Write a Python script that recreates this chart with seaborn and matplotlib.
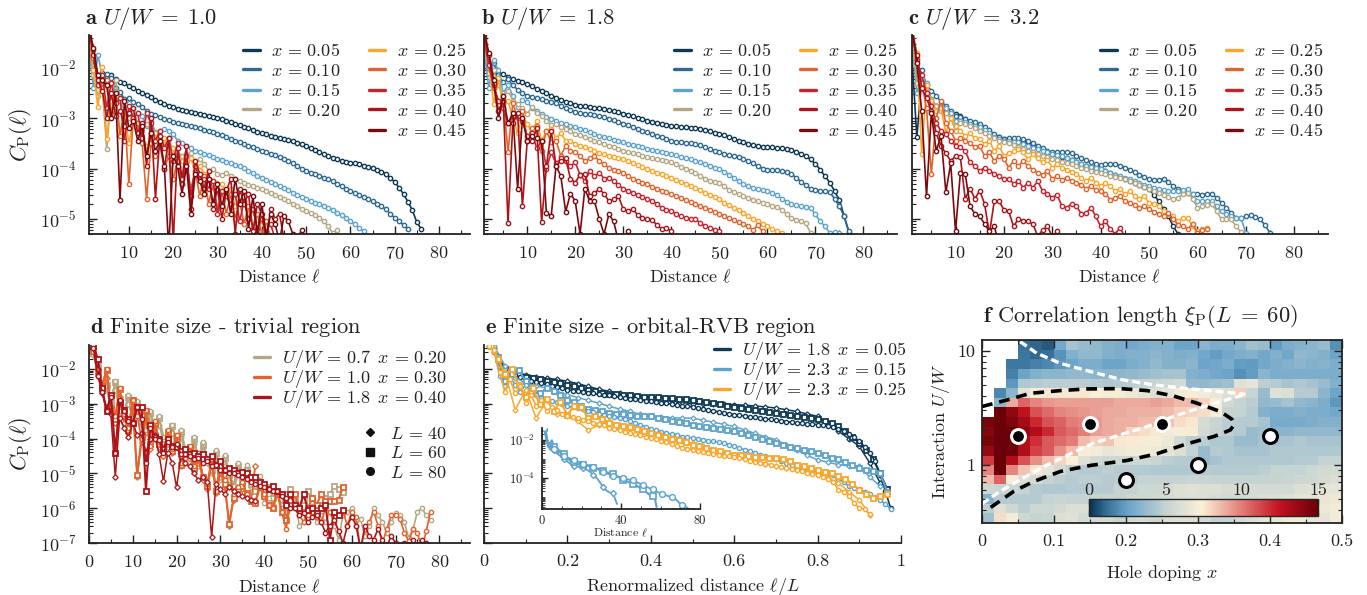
import numpy as np
import pandas as pd
import matplotlib
matplotlib.use('Agg')
import matplotlib.pyplot as plt
import seaborn as sns
from matplotlib.colors import LinearSegmentedColormap, Normalize
from matplotlib.cm import ScalarMappable
from matplotlib.lines import Line2D
from matplotlib.ticker import MultipleLocator, LogLocator, NullFormatter

# all curves are log10(C_P) x 100, starting at distance 1
a05 = [-130,-185,-235,-210,-225,-215,-223,-228,-231,-236,-240,-245,-250,-253,-258,-263,-268,-272,-275,-278,-281,-283,-285,-287,-289,-291,-293,-295,-297,-299,-302,-305,-308,-311,-314,-317,-320,-323,-327,-330,-332,-335,-337,-339,-341,-343,-346,-349,-352,-356,-360,-364,-368,-372,-376,-379,-382,-385,-387,-389,-390,-392,-394,-396,-399,-402,-406,-411,-418,-427,-438,-451,-466,-483,-507,-520]
a10 = [-130,-180,-215,-225,-213,-221,-240,-248,-262,-260,-268,-272,-278,-285,-291,-294,-298,-301,-304,-308,-310,-312,-314,-316,-318,-320,-323,-325,-328,-331,-334,-338,-341,-345,-348,-351,-355,-358,-362,-365,-368,-371,-374,-378,-381,-385,-390,-395,-400,-405,-408,-411,-415,-418,-421,-425,-430,-435,-440,-445,-449,-453,-457,-461,-465,-470,-475,-481,-490,-498,-505,-512,-521]
a15 = [-160,-240,-175,-215,-235,-230,-245,-265,-285,-270,-295,-290,-295,-315,-305,-328,-325,-321,-326,-331,-345,-350,-355,-360,-365,-368,-371,-374,-378,-381,-384,-387,-390,-393,-395,-399,-404,-409,-414,-418,-422,-426,-430,-434,-438,-443,-448,-452,-457,-461,-464,-468,-471,-475,-478,-483,-488,-493,-499,-505,-511,-518,-525]
a20 = [-155,-215,-255,-240,-361,-255,-225,-265,-275,-300,-288,-310,-325,-311,-330,-345,-341,-355,-341,-365,-374,-375,-372,-369,-391,-381,-391,-405,-400,-411,-413,-408,-415,-420,-425,-429,-432,-435,-438,-441,-445,-449,-452,-456,-461,-465,-470,-475,-480,-485,-489,-493,-498,-505,-515,-528,-523]
a25 = [-140,-205,-278,-198,-341,-265,-255,-330,-290,-350,-305,-320,-335,-355,-345,-330,-350,-340,-375,-360,-395,-385,-400,-380,-405,-395,-410,-420,-425,-428,-430,-448,-440,-475,-465,-470,-490,-485,-510,-505,-532]
a30 = [-135,-180,-215,-240,-225,-290,-250,-335,-285,-431,-300,-310,-350,-460,-350,-375,-355,-400,-375,-420,-385,-430,-395,-440,-405,-455,-415,-470,-430,-480,-445,-490,-450,-500,-465,-510,-475,-520,-490,-530,-505,-540]
a35 = [-125,-165,-235,-215,-280,-230,-270,-260,-345,-275,-300,-290,-340,-290,-310,-345,-325,-360,-340,-385,-350,-430,-375,-455,-395,-420,-420,-440,-425,-490,-445,-455,-470,-450,-505,-465,-500,-480,-520,-500,-525,-510,-540]
a40 = [-122,-175,-225,-245,-300,-250,-295,-285,-315,-290,-280,-330,-310,-395,-300,-460,-335,-400,-340,-545,-360,-420,-355,-480,-385,-410,-440,-405,-480,-440,-500,-445,-420,-530,-440,-470,-450,-525,-470,-490,-540,-480,-500,-490,-540]
a45 = [-120,-160,-215,-225,-235,-300,-250,-463,-265,-320,-305,-345,-315,-375,-330,-365,-345,-395,-560,-375,-395,-450,-395,-490,-410,-425,-450,-420,-470,-430,-475,-440,-490,-420,-470,-445,-520,-455,-530,-470,-535,-490,-510,-545,-495,-505,-530,-540,-522,-545]

b05 = [-140,-195,-215,-210,-213,-218,-223,-226,-229,-233,-237,-241,-245,-250,-255,-259,-263,-267,-270,-273,-275,-276,-277,-279,-280,-282,-284,-286,-288,-291,-293,-296,-299,-302,-305,-307,-309,-311,-313,-315,-316,-317,-318,-319,-319,-321,-324,-326,-329,-331,-334,-337,-341,-345,-348,-351,-353,-355,-357,-358,-358,-359,-360,-361,-363,-367,-371,-375,-382,-391,-402,-415,-428,-445,-462,-495,-528]
b10 = [-150,-200,-190,-215,-228,-222,-235,-243,-250,-255,-258,-260,-262,-265,-267,-270,-275,-280,-284,-288,-290,-291,-292,-294,-295,-298,-301,-304,-307,-311,-314,-318,-321,-325,-328,-331,-335,-338,-342,-345,-347,-348,-349,-350,-351,-354,-358,-362,-365,-368,-371,-374,-376,-378,-381,-385,-390,-395,-400,-403,-403,-403,-405,-407,-411,-418,-426,-433,-440,-443,-444,-445,-447,-460,-475,-495,-525]
b15 = [-165,-240,-185,-205,-250,-235,-255,-278,-263,-268,-280,-285,-292,-297,-301,-305,-309,-312,-315,-318,-321,-324,-328,-332,-335,-338,-340,-343,-345,-348,-351,-353,-356,-358,-361,-363,-365,-367,-369,-371,-374,-377,-380,-382,-385,-388,-391,-394,-398,-401,-406,-412,-418,-425,-431,-435,-438,-440,-443,-445,-449,-453,-460,-466,-471,-473,-475,-476,-478,-491,-505,-515,-528,-527,-528]
b20 = [-155,-210,-205,-235,-255,-245,-265,-272,-280,-291,-278,-290,-296,-305,-313,-312,-318,-322,-326,-331,-334,-337,-341,-345,-348,-352,-355,-358,-362,-365,-368,-370,-372,-375,-378,-380,-382,-384,-386,-388,-392,-396,-400,-404,-408,-414,-420,-424,-426,-428,-435,-442,-447,-451,-455,-459,-462,-465,-468,-471,-474,-476,-482,-490,-498,-502,-505,-509,-528]
b25 = [-150,-190,-271,-221,-280,-265,-300,-330,-295,-311,-330,-305,-345,-325,-321,-340,-330,-345,-345,-351,-355,-358,-362,-366,-369,-372,-375,-377,-379,-381,-385,-389,-393,-397,-401,-405,-408,-411,-415,-418,-422,-426,-430,-434,-438,-443,-448,-452,-456,-461,-468,-473,-478,-483,-488,-494,-500,-505,-510,-515,-520,-524,-528]
b30 = [-145,-190,-240,-265,-260,-367,-270,-300,-285,-341,-320,-315,-365,-325,-348,-345,-375,-355,-365,-368,-375,-385,-380,-375,-385,-392,-398,-403,-405,-408,-415,-420,-424,-428,-431,-436,-440,-444,-447,-451,-455,-459,-463,-467,-471,-474,-478,-482,-487,-491,-495,-499,-503,-507,-511,-515,-522,-513,-525]
b35 = [-140,-195,-235,-265,-280,-310,-295,-295,-305,-335,-330,-360,-345,-400,-368,-390,-380,-385,-395,-388,-412,-425,-405,-415,-408,-420,-418,-425,-432,-441,-445,-448,-452,-456,-461,-465,-470,-478,-482,-485,-490,-495,-498,-500,-501,-508,-514,-518,-522,-525]
b40 = [-135,-175,-230,-285,-265,-508,-310,-290,-475,-345,-345,-320,-507,-395,-325,-395,-385,-380,-420,-428,-412,-410,-455,-448,-441,-450,-465,-461,-455,-481,-485,-481,-492,-498,-501,-502,-512,-520,-518,-525]
b45 = [-125,-170,-225,-300,-255,-310,-290,-440,-300,-345,-335,-340,-345,-488,-494,-395,-415,-486,-450,-465,-530,-440,-465,-465,-500,-530,-491,-505,-545,-545,-525]

c05 = [-180,-338,-225,-250,-270,-275,-281,-284,-287,-291,-296,-301,-307,-313,-318,-323,-328,-333,-337,-341,-343,-344,-345,-347,-348,-352,-357,-362,-367,-371,-374,-377,-380,-384,-388,-391,-394,-397,-399,-401,-404,-409,-413,-417,-421,-425,-429,-433,-437,-441,-452,-465,-480,-495,-515,-530]
c10 = [-160,-220,-205,-235,-245,-255,-268,-275,-285,-295,-298,-301,-305,-308,-311,-317,-324,-332,-338,-341,-340,-340,-340,-342,-345,-350,-355,-360,-365,-368,-368,-367,-368,-370,-375,-380,-384,-388,-391,-393,-392,-391,-391,-394,-398,-402,-407,-412,-417,-421,-423,-422,-420,-427,-435,-441,-446,-449,-451,-451,-452,-451,-451,-458,-468,-478,-488,-498,-498,-495,-493,-497,-501,-513,-528]
c15 = [-140,-250,-221,-230,-262,-275,-275,-280,-290,-305,-305,-308,-312,-315,-318,-323,-330,-337,-342,-345,-346,-347,-348,-352,-355,-359,-362,-365,-368,-371,-374,-376,-380,-384,-388,-391,-394,-396,-399,-401,-404,-408,-412,-415,-418,-421,-425,-429,-432,-435,-438,-441,-443,-444,-445,-445,-443,-441,-450,-465,-465,-465,-465,-475,-485,-490,-494,-498,-498,-528]
c20 = [-145,-230,-240,-245,-265,-275,-285,-290,-300,-325,-310,-312,-316,-320,-325,-330,-335,-340,-345,-348,-350,-353,-357,-361,-365,-368,-372,-375,-378,-381,-384,-387,-390,-392,-395,-398,-401,-404,-406,-408,-411,-414,-416,-419,-421,-425,-429,-433,-437,-441,-445,-449,-453,-457,-461,-458,-451,-448,-460,-478,-475,-472,-471,-485,-501,-501,-501,-515,-526]
c25 = [-125,-170,-371,-235,-265,-285,-280,-330,-300,-315,-325,-335,-330,-340,-341,-352,-345,-365,-355,-375,-370,-365,-362,-368,-381,-372,-380,-388,-383,-398,-392,-398,-402,-406,-411,-418,-425,-418,-428,-435,-428,-435,-445,-440,-451,-445,-455,-460,-455,-468,-470,-475,-485,-490,-495,-505,-498,-498,-515,-525,-520,-518]
c30 = [-130,-180,-230,-280,-411,-300,-265,-310,-325,-345,-340,-345,-350,-358,-355,-375,-368,-385,-375,-381,-398,-385,-395,-385,-395,-402,-408,-412,-405,-421,-415,-422,-418,-425,-428,-432,-440,-435,-442,-445,-450,-462,-458,-455,-465,-468,-472,-478,-475,-481,-486,-490,-495,-488,-501,-512,-515,-520,-510,-528,-522,-521]
c35 = [-125,-185,-215,-250,-275,-310,-325,-331,-345,-355,-358,-365,-388,-395,-405,-398,-405,-410,-415,-421,-420,-430,-425,-438,-428,-438,-425,-445,-450,-458,-452,-475,-478,-470,-475,-490,-488,-478,-495,-515,-505,-520,-530,-518,-535]
c40 = [-122,-175,-240,-260,-285,-330,-355,-370,-385,-375,-378,-460,-440,-460,-444,-470,-530,-465,-465,-482,-485,-515,-500,-505,-505,-510,-535,-522,-515,-535,-525]
c45 = [-120,-190,-285,-455,-290,-365,-335,-447,-390,-525,-408,-410,-475,-490,-495,-510,-525,-515,-550,-560]

d20_40 = [-150,-200,-265,-260,-310,-260,-320,-335,-300,-345,-315,-360,-385,-340,-400,-360,-410,-425,-385,-425,-395,-445,-460,-415,-480,-435,-470,-500,-460,-520,-480,-520,-560,-500,-530,-505,-540,-478]
d20_60 = [-155,-190,-255,-245,-295,-238,-300,-325,-280,-335,-298,-350,-380,-325,-390,-340,-400,-415,-365,-410,-380,-435,-455,-400,-470,-418,-460,-490,-440,-510,-455,-505,-540,-480,-520,-490,-530,-550,-525,-560,-540,-570,-560,-590,-560,-545,-580,-600,-575,-550,-570,-600,-590,-570,-560,-535,-545,-552]
d20_80 = [-160,-195,-260,-250,-300,-234,-300,-320,-276,-330,-293,-345,-375,-322,-385,-336,-395,-410,-362,-405,-374,-430,-450,-395,-465,-411,-455,-480,-432,-500,-447,-495,-535,-470,-510,-475,-515,-535,-508,-585,-570,-590,-560,-600,-610,-555,-560,-650,-640,-600,-595,-640,-620,-640,-610,-650,-690,-620,-610,-600,-650,-630,-680,-650,-600,-620,-640,-670,-640,-615,-620,-640,-685,-660,-610,-600,-620,-635]
d30_40 = [-145,-220,-255,-225,-325,-355,-280,-355,-385,-315,-510,-410,-345,-430,-365,-425,-450,-395,-440,-405,-480,-455,-440,-500,-460,-520,-545,-475,-555,-500,-535,-650,-575,-545,-545,-560,-580,-478]
d30_60 = [-148,-210,-248,-202,-315,-345,-258,-335,-375,-290,-505,-395,-322,-415,-355,-415,-440,-380,-435,-392,-475,-445,-425,-485,-445,-510,-535,-465,-550,-490,-530,-645,-570,-545,-535,-555,-580,-585,-540,-565,-590,-600,-555,-610,-635,-575,-560,-600,-610,-600,-570,-590,-560,-580,-580,-580,-575,-540]
d30_80 = [-150,-215,-250,-200,-310,-335,-255,-330,-370,-288,-335,-400,-319,-420,-350,-410,-450,-376,-430,-389,-470,-440,-422,-480,-440,-510,-530,-460,-540,-480,-520,-490,-560,-540,-525,-560,-575,-580,-530,-560,-590,-600,-550,-610,-660,-590,-600,-620,-640,-620,-610,-625,-640,-600,-610,-640,-620,-610,-650,-610,-625,-720,-660,-640,-610,-650,-700,-660,-620,-620,-630,-670,-695,-660,-670,-720,-665,-610]
d40_40 = [-130,-200,-270,-310,-330,-510,-340,-370,-395,-355,-390,-385,-440,-400,-390,-445,-523,-440,-470,-540,-450,-470,-480,-500,-520,-510,-525,-683,-530,-545,-560,-540,-550,-560,-565,-570,-575,-578]
d40_60 = [-135,-170,-255,-320,-275,-440,-295,-318,-345,-355,-308,-310,-550,-360,-395,-400,-430,-400,-420,-425,-435,-430,-445,-440,-450,-445,-460,-450,-475,-465,-490,-485,-490,-500,-495,-500,-510,-510,-525,-530,-545,-535,-550,-560,-590,-560,-590,-600,-560,-605,-600,-615,-600,-590,-690,-610,-620,-605]
d40_80 = [-140,-220,-265,-322,-280,-440,-290,-320,-350,-355,-310,-345,-470,-370,-400,-405,-440,-410,-425,-415,-445,-445,-450,-460,-455,-470,-465,-480,-475,-490,-490,-500,-500,-505,-510,-515,-525,-530,-535,-540,-545,-550,-550,-565,-570,-600,-600,-620,-615,-640,-625,-620,-640,-670,-650,-635,-665,-700,-650,-625,-650,-720,-650,-680,-690,-660,-690,-710,-680,-700,-720,-700,-740,-690,-720,-690,-700,-710]

e05_40 = [-140,-200,-210,-216,-222,-226,-230,-235,-242,-250,-258,-264,-270,-275,-280,-283,-287,-291,-296,-300,-300,-301,-301,-302,-304,-306,-309,-312,-317,-322,-329,-336,-355,-379,-400,-422,-470,-527]
e05_60 = [-135,-170,-200,-210,-215,-223,-226,-230,-234,-238,-241,-245,-250,-255,-260,-264,-268,-271,-272,-274,-276,-278,-279,-280,-281,-282,-283,-285,-286,-288,-291,-294,-297,-301,-305,-309,-312,-315,-318,-321,-324,-326,-329,-332,-335,-338,-341,-344,-349,-356,-365,-378,-395,-413,-432,-460,-500,-545]
e05_80 = [-135,-150,-195,-200,-210,-218,-224,-231,-235,-238,-241,-244,-248,-251,-255,-259,-262,-264,-266,-268,-270,-272,-274,-276,-278,-280,-283,-285,-287,-289,-291,-293,-295,-297,-299,-301,-303,-305,-307,-309,-312,-315,-318,-321,-323,-326,-329,-331,-333,-335,-337,-339,-341,-343,-345,-347,-349,-351,-353,-355,-356,-357,-358,-360,-362,-364,-367,-372,-379,-387,-396,-408,-423,-441,-465,-504,-550,-600]
e15_40 = [-135,-190,-225,-240,-248,-255,-265,-274,-282,-290,-298,-307,-315,-322,-330,-336,-338,-340,-341,-341,-347,-353,-359,-365,-375,-385,-395,-403,-418,-433,-448,-461,-468,-475,-478,-480,-510,-537]
e15_60 = [-135,-165,-235,-215,-202,-235,-260,-270,-255,-262,-275,-288,-295,-305,-315,-318,-322,-326,-328,-330,-333,-334,-335,-336,-340,-345,-350,-353,-356,-360,-364,-367,-370,-373,-376,-379,-385,-390,-396,-402,-408,-413,-418,-423,-428,-433,-437,-441,-448,-455,-460,-468,-476,-485,-490,-494,-499,-552]
e15_80 = [-135,-150,-220,-250,-225,-245,-265,-245,-265,-275,-282,-288,-292,-296,-300,-307,-310,-313,-316,-320,-324,-328,-332,-336,-339,-342,-345,-348,-355,-361,-366,-372,-376,-380,-384,-388,-391,-394,-396,-398,-400,-403,-406,-408,-410,-413,-417,-422,-427,-432,-437,-441,-447,-451,-456,-460,-465,-470,-476,-482,-486,-489,-492,-495,-497,-499,-505,-515,-525,-537,-542,-545,-552,-560,-567,-575,-588,-601]
e25_40 = [-150,-210,-317,-260,-341,-290,-330,-336,-350,-376,-360,-350,-360,-372,-378,-384,-392,-400,-407,-413,-422,-432,-442,-451,-458,-465,-472,-480,-485,-490,-495,-499,-512,-528,-552,-576,-619]
e25_60 = [-135,-170,-215,-200,-245,-279,-255,-300,-285,-320,-295,-331,-305,-310,-340,-335,-345,-355,-360,-364,-368,-372,-378,-384,-390,-395,-400,-405,-411,-417,-422,-427,-432,-437,-442,-446,-448,-450,-452,-454,-455,-456,-460,-465,-475,-480,-485,-489,-495,-500,-508,-515,-530,-547,-560,-571,-566,-560]
e25_80 = [-135,-145,-210,-265,-230,-270,-250,-298,-275,-305,-290,-320,-310,-318,-328,-336,-338,-342,-346,-350,-354,-358,-362,-370,-372,-376,-380,-384,-388,-391,-395,-398,-402,-406,-411,-416,-421,-426,-429,-432,-435,-438,-441,-443,-446,-449,-451,-454,-457,-460,-463,-466,-470,-473,-475,-478,-481,-484,-487,-490,-494,-498,-501,-504,-510,-516,-525,-547,-552,-565,-585,-600,-602,-618]

# correlation length grid, top row first
xi_grid = [
    [np.nan,np.nan,np.nan,1.2,1.0,0.8,2.8,4.2,3.8,3.6,3.2,3.0,2.8,3.0,3.2,3.2,2.6,2.6,3.4,3.0,3.0,3.4,4.0,3.8,2.4,3.0,3.2,3.4,3.8,2.0],
    [np.nan,np.nan,np.nan,1.3,1.1,1.2,2.1,3.2,3.6,3.6,3.2,3.0,3.2,3.2,3.4,3.2,3.0,3.2,2.8,2.4,2.8,3.0,3.2,2.8,3.2,2.7,3.6,3.4,3.2,2.6],
    [np.nan,np.nan,1.4,1.4,1.6,1.8,2.2,2.6,3.0,3.0,2.6,2.6,3.0,3.2,3.6,3.2,3.2,3.4,2.6,2.7,3.0,2.4,2.3,2.8,3.0,3.2,3.4,3.2,3.3,3.0],
    [np.nan,np.nan,1.6,2.6,3.2,3.4,3.4,3.6,3.6,3.4,3.4,3.5,3.6,3.8,4.0,4.2,4.2,3.2,3.0,2.8,2.6,2.0,2.4,3.4,3.0,3.0,3.0,3.0,3.0,3.0],
    [np.nan,np.nan,2.2,4.4,4.6,4.8,4.8,4.8,4.8,4.6,4.4,4.6,4.8,5.0,5.2,5.4,5.6,3.6,3.6,3.8,4.0,6.2,6.4,4.8,4.6,4.2,4.4,4.2,3.8,3.2],
    [np.nan,1.8,3.4,6.4,7.2,7.6,7.6,7.6,7.6,7.4,7.2,7.2,6.8,6.4,6.0,6.4,7.0,7.2,7.0,6.6,6.0,8.2,5.2,3.8,6.2,6.0,4.6,4.6,3.4,2.6],
    [np.nan,3.4,9.0,10.5,9.8,9.4,9.2,9.2,9.2,9.2,9.2,9.0,9.0,9.0,9.2,9.0,8.6,8.6,8.0,7.2,5.6,5.0,4.8,3.6,3.8,4.2,3.6,3.4,3.0,2.2],
    [np.nan,15,14,12.6,11,10.4,9.8,9.6,9.4,9.2,9.0,9.0,8.8,8.8,8.8,8.6,8.2,8.0,7.8,7.2,5,5,4.6,3.2,3.0,3.0,3.2,3.0,3.0,2.8],
    [14.6,15,14.4,13.4,12,11,10.6,10,9.8,9.4,9.0,8.8,8.8,8.6,8.6,8.4,7.8,7.6,5.8,5.2,4.8,4.6,4.6,4.2,2.9,2.9,2.9,3.0,3.2,3.2],
    [14.2,15,15,14,13,12,10.8,10.4,10,9.2,9.0,8.8,8.0,7.8,7.6,7.0,7.2,7.2,5.6,5.0,4.8,4.6,3.8,4,3.4,3.4,3.6,3.6,3.6,3.6],
    [14.6,15,15,13,11.8,10.8,10.4,10,8.6,8.2,8.4,7.6,7.5,7.2,7.2,6.8,5.6,4.8,4.8,4.4,4.4,3.8,3.8,4.2,4.2,4.2,4.4,4.2,4.2,4.2],
    [13.8,15,14.8,13,11.4,10.8,9.6,8.6,7.2,7,6.6,6.8,7,7,6.8,6.4,6,5,3.8,4.6,4.4,4.2,4.2,4.2,4.4,4.4,4.4,4.4,4.4,4.4],
    [11.6,15,13,11,9.6,8.6,8.0,7.4,6.2,5.6,5.4,5.4,5.4,5.4,5.2,4.8,4.6,4.6,3.8,4.2,4.4,4.4,4.4,4.4,4.4,4.4,4.6,4.6,5.0,5],
    [9.8,15,9.8,8.4,7.6,6.4,5.6,4.8,4.6,4.6,4.8,4.6,4.6,4.6,4.4,4.4,4.4,4.4,4.6,4.6,4.6,4.6,4.6,4.8,5,5,5,5.4,5.6,5.6],
    [8.6,10.6,7.2,6,5.6,5,4.8,4.6,4.8,4.8,4.6,4.8,4.8,5,5,5,5,5.2,5.2,5,5,5,5,5,5,5.2,5.4,5.4,5.8,6],
    [5.4,5.2,5.2,5.0,4.6,4.4,4.4,4.6,4.6,4.6,4.6,5,5,5.4,5.4,5.8,6,6.2,6,6,5.8,5.8,5.8,5.6,5.6,5.6,6,6.2,6.4,6.4],
    [3.2,4.6,4.6,4.6,4.6,5,5.2,5,5,5,5,5,5.4,5.4,5.6,5.8,6,6,6,5.8,5.6,5.6,5.8,6,6,6.2,6.4,6.4,6.6,6.8],
    [4.8,6.2,5.4,4.8,5.4,5.4,5.6,6,6,5.4,5.4,5.8,5.8,5.6,5.8,6,6.2,6,5.6,5.6,5.6,6,6.2,6.2,6.4,6.6,6.6,6.8,6.8,7],
    [4,7.8,7,5.4,5,5.2,6,6.2,5.6,5.6,5.6,5.2,5.6,5.8,5.4,6,6.2,6,5.6,5,5,5.6,6,6.4,6.6,7,7,6.6,6.4,7],
]

white_up_x = [.053,.076,.109,.146,.192,.238,.285,.331,.366]
white_up_u = [12.0,9.5,7.74,6.68,5.61,5.01,4.66,4.38,4.15]
white_lo_x = [0,.025,.053,.086,.123,.155,.192,.229,.266,.308,.366]
white_lo_u = [.456,.585,.74,.966,1.25,1.55,1.83,2.16,2.65,3.24,4.15]
black_x = [0,.035,.067,.109,.146,.192,.229,.266,.299,.331,.347,.35,.345,.322,.285,.243,.201,.15,.109,.072,.044,.009]
black_u = [3.24,3.7,4.23,4.47,4.62,4.65,4.47,4.01,3.46,2.93,2.51,2.24,2.02,1.77,1.53,1.25,1.09,.986,.875,.715,.585,.41]
rvb_x = [.05,.15,.25]
rvb_u = [1.77,2.3,2.3]
triv_x = [.2,.3,.4]
triv_u = [.73,.99,1.77]

doping_labels = ['0.05','0.10','0.15','0.20','0.25','0.30','0.35','0.40','0.45']
doping_colors = ['#0f3a56','#2f6a92','#5ca3cd','#b4a884','#f9a62b','#e3632c','#c8222c','#ad1419','#7b0a0e']

W, H = 1367, 595
sns.set_style('ticks')
plt.rcParams['font.family'] = ['cmr10']
plt.rcParams['mathtext.fontset'] = 'cm'
plt.rcParams['axes.unicode_minus'] = False
plt.rcParams['axes.formatter.use_mathtext'] = True
plt.rcParams['text.color'] = '#222222'
plt.rcParams['axes.labelcolor'] = '#222222'
plt.rcParams['xtick.labelcolor'] = '#222222'
plt.rcParams['ytick.labelcolor'] = '#222222'

fig = plt.figure(figsize=(W / 100, H / 100), dpi=100)


def box(l, t, r, b):
    return fig.add_axes([l / W, 1 - b / H, (r - l) / W, (b - t) / H])


def put(x, y, s, size=16.2):
    fig.text(x / W, 1 - y / H, s, fontsize=size, va='center', ha='left')


def curve(ax, vals, color, xs=None, marker='o', ms=3.1, mew=1.0, lw=1.2, every=1):
    vals = np.array(vals, dtype=float)
    dist = np.arange(1, len(vals) + 1)
    xx = dist if xs is None else dist / xs
    df = pd.DataFrame({'x': xx, 'y': 10 ** (vals / 100)})
    sns.lineplot(data=df, x='x', y='y', ax=ax, color=color, marker=marker, markersize=ms,
                 markerfacecolor='white', markeredgecolor=color, markeredgewidth=mew,
                 linewidth=lw, estimator=None, errorbar=None, legend=False, markevery=every)


def style(ax, xlim, ylim, xmajor, xminor):
    ax.set_yscale('log')
    ax.set_xlim(*xlim)
    ax.set_ylim(*ylim)
    ax.xaxis.set_major_locator(MultipleLocator(xmajor))
    ax.xaxis.set_minor_locator(MultipleLocator(xminor))
    ax.yaxis.set_major_locator(LogLocator(base=10, numticks=12))
    ax.yaxis.set_minor_locator(LogLocator(base=10, subs=np.arange(2, 10), numticks=12))
    ax.yaxis.set_minor_formatter(NullFormatter())
    ax.tick_params(which='major', direction='in', length=5.5, width=1.0, labelsize=13, color='#222222')
    ax.tick_params(which='minor', direction='in', length=3, width=0.8, color='#222222')
    ax.tick_params(axis='x', which='major', pad=8)
    ax.tick_params(axis='y', which='major', pad=9)
    for k in ['top', 'right']:
        ax.spines[k].set_visible(False)
    for k in ['left', 'bottom']:
        ax.spines[k].set_linewidth(1.3)
        ax.spines[k].set_color('#222222')
    ax.set_xlabel('')
    ax.set_ylabel('')


def color_legend(ax, right):
    handles = [Line2D([], [], color=c, lw=2.4, label=r'$x\,=\,' + s + '$') for s, c in zip(doping_labels, doping_colors)]
    # blank slot so the first column holds four rows and the second five
    handles.insert(4, Line2D([], [], color='none', label=' '))
    ax.legend(handles=handles, ncol=2, frameon=False, loc='upper right', bbox_to_anchor=(right, 0.965),
              borderaxespad=0, fontsize=13, labelspacing=0.2, handlelength=0.9, handletextpad=0.65,
              columnspacing=1.55, borderpad=0)


# top row
top = [
    (box(89, 35, 470, 234), [a05, a10, a15, a20, a25, a30, a35, a40, a45], r'$\mathbf{a}$ $U/W\;=\;1.0$', 85, 0.99),
    (box(484, 35, 897, 234), [b05, b10, b15, b20, b25, b30, b35, b40, b45], r'$\mathbf{b}$ $U/W\;=\;1.8$', 481, 1.0),
    (box(912, 35, 1328, 234), [c05, c10, c15, c20, c25, c30, c35, c40, c45], r'$\mathbf{c}$ $U/W\;=\;3.2$', 908, 0.988),
]
for i, (ax, series, title, tx, right) in enumerate(top):
    for vals, col in zip(series, doping_colors):
        curve(ax, vals, col)
    style(ax, (1, 87), (5e-6, 4.5e-2), 10, 5)
    color_legend(ax, right)
    ax.set_xlabel(r'Distance $\ell$', fontsize=13, labelpad=4)
    put(tx, 19, title)
    if i == 0:
        ax.set_ylabel(r'$C_{\mathrm{P}}(\ell)$', fontsize=16, labelpad=4)
    else:
        ax.tick_params(axis='y', which='both', labelleft=False)

# d
ax_d = box(89, 345, 470, 543)
for group, col in [((d20_40, d20_60, d20_80), '#b4a884'), ((d30_40, d30_60, d30_80), '#e3632c'), ((d40_40, d40_60, d40_80), '#ad1419')]:
    curve(ax_d, group[0], col, marker='D', ms=2.8, mew=0.9, lw=1.1)
    curve(ax_d, group[1], col, marker='s', ms=3.6, mew=1.3, lw=1.5)
    curve(ax_d, group[2], col, marker='o', ms=3.1, mew=1.0, lw=1.2)
style(ax_d, (0, 87), (1e-7, 4.9e-2), 10, 5)
ax_d.set_xlabel(r'Distance $\ell$', fontsize=13, labelpad=5)
ax_d.set_ylabel(r'$C_{\mathrm{P}}(\ell)$', fontsize=16, labelpad=4)
put(90, 327, r'$\mathbf{d}$ Finite size - trivial region')
h1 = [Line2D([], [], color=c, lw=2.4, label=s) for s, c in [
    (r'$U/W\,=\,0.7\;\;x\,=\,0.20$', '#b4a884'), (r'$U/W\,=\,1.0\;\;x\,=\,0.30$', '#e3632c'), (r'$U/W\,=\,1.8\;\;x\,=\,0.40$', '#ad1419')]]
leg1 = ax_d.legend(handles=h1, frameon=False, loc='upper right', bbox_to_anchor=(0.94, 0.985), borderaxespad=0,
                   fontsize=13, labelspacing=-0.1, handlelength=0.9, handletextpad=0.65, borderpad=0)
ax_d.add_artist(leg1)
h2 = [Line2D([], [], color='#111111', ls='', marker=m, ms=s, label=t) for m, s, t in [
    ('D', 3.6, r'$L\,=\,40$'), ('s', 5.5, r'$L\,=\,60$'), ('o', 5.5, r'$L\,=\,80$')]]
ax_d.legend(handles=h2, frameon=False, loc='upper right', bbox_to_anchor=(0.94, 0.593), borderaxespad=0,
            fontsize=13, labelspacing=0.2, handlelength=0.9, handletextpad=0.65, borderpad=0)

# e
ax_e = box(484, 345, 901, 543)
for group, col in [((e05_40, e05_60, e05_80), '#0f3a56'), ((e15_40, e15_60, e15_80), '#5ca3cd'), ((e25_40, e25_60, e25_80), '#f9a62b')]:
    curve(ax_e, group[0], col, xs=40, marker='D', ms=2.6, mew=0.9, lw=1.1)
    curve(ax_e, group[1], col, xs=60, marker='s', ms=3.6, mew=1.3, lw=1.5)
    curve(ax_e, group[2], col, xs=80, marker='o', ms=3.0, mew=1.0, lw=1.2)
style(ax_e, (0, 1), (1e-7, 4.9e-2), 0.2, 0.1)
ax_e.set_xticks([0, 0.2, 0.4, 0.6, 0.8, 1], ['0', '0.2', '0.4', '0.6', '0.8', '1'])
ax_e.tick_params(axis='y', which='both', labelleft=False)
ax_e.set_xlabel(r'Renormalized distance $\ell/L$', fontsize=13, labelpad=5)
put(485, 327, r'$\mathbf{e}$ Finite size - orbital-RVB region')
h3 = [Line2D([], [], color=c, lw=2.4, label=s) for s, c in [
    (r'$U/W\,=\,1.8\;\;x\,=\,0.05$', '#0f3a56'), (r'$U/W\,=\,2.3\;\;x\,=\,0.15$', '#5ca3cd'), (r'$U/W\,=\,2.3\;\;x\,=\,0.25$', '#f9a62b')]]
ax_e.legend(handles=h3, frameon=False, loc='upper right', bbox_to_anchor=(1.014, 1.025), borderaxespad=0,
            fontsize=13, labelspacing=-0.1, handlelength=0.9, handletextpad=0.65, borderpad=0)

# inset of e
ax_i = box(542, 428, 700, 509)
ax_i.patch.set_alpha(0)
curve(ax_i, e15_40, '#5ca3cd', marker='D', ms=3, mew=1.0, lw=1.3, every=5)
curve(ax_i, e15_60, '#5ca3cd', marker='s', ms=5, mew=1.2, lw=1.5, every=5)
curve(ax_i, e15_80, '#5ca3cd', marker='o', ms=4.2, mew=1.0, lw=1.3, every=5)
style(ax_i, (0, 80), (10 ** -5.63, 10 ** -1.37), 40, 10)
ax_i.yaxis.set_major_locator(LogLocator(base=100, numticks=5))
ax_i.yaxis.set_minor_locator(LogLocator(base=10, subs=np.arange(1, 10), numticks=12))
ax_i.set_xticks([0, 40, 80], ['0', '40', '80'])
ax_i.tick_params(which='major', labelsize=9, length=4)
ax_i.tick_params(axis='x', which='major', pad=4)
ax_i.tick_params(axis='y', which='major', pad=5)
ax_i.tick_params(which='minor', length=2, width=0.6)
ax_i.set_xlabel(r'Distance $\ell$', fontsize=8.5, labelpad=0)

# f
xi_cmap = LinearSegmentedColormap.from_list('xi', [
    (0, '#08304f'), (1.2 / 15, '#38719a'), (2.5 / 15, '#6aa3c9'), (5 / 15, '#c5d3d2'), (7.4 / 15, '#fbf0d8'),
    (10 / 15, '#e27d78'), (12.5 / 15, '#c4121f'), (1, '#6a0008')])
ax_h = box(982, 340, 1342, 523)
sns.heatmap(np.array(xi_grid), ax=ax_h, cmap=xi_cmap, vmin=0, vmax=15, cbar=False, xticklabels=False, yticklabels=False)
ax_h.tick_params(left=False, bottom=False)

ax_f = box(982, 340, 1342, 523)
ax_f.patch.set_alpha(0)
ax_f.plot(white_up_x, white_up_u, color='white', lw=2.4, ls=(0, (2.4, 1.2)))
ax_f.plot(white_lo_x, white_lo_u, color='white', lw=2.4, ls=(0, (2.4, 1.2)))
ax_f.plot(black_x, black_u, color='black', lw=2.6, ls=(0, (3.0, 1.9)))
sns.scatterplot(x=rvb_x, y=rvb_u, ax=ax_f, color='black', s=100, edgecolor='white', linewidth=2.2, legend=False, zorder=5)
sns.scatterplot(x=triv_x, y=triv_u, ax=ax_f, color='white', s=100, edgecolor='black', linewidth=2.2, legend=False, zorder=5)
ax_f.set_yscale('log')
ax_f.set_xlim(0, 0.5)
ax_f.set_ylim(0.309, 12.4)
ax_f.set_xticks([0, 0.1, 0.2, 0.3, 0.4, 0.5], ['0', '0.1', '0.2', '0.3', '0.4', '0.5'])
ax_f.xaxis.set_minor_locator(MultipleLocator(0.05))
ax_f.set_yticks([1, 10], ['1', '10'])
ax_f.yaxis.set_minor_locator(LogLocator(base=10, subs=np.arange(2, 10), numticks=12))
ax_f.yaxis.set_minor_formatter(NullFormatter())
ax_f.tick_params(which='major', direction='in', top=True, right=True, length=5.5, width=1.0, labelsize=13, pad=5)
ax_f.tick_params(axis='x', which='major', pad=8)
ax_f.tick_params(which='minor', direction='in', top=True, right=True, length=3, width=0.8)
for s in ax_f.spines.values():
    s.set_linewidth(1.3)
    s.set_color('#222222')
ax_f.set_xlabel(r'Hole doping $x$', fontsize=13, labelpad=10)
ax_f.set_ylabel(r'Interaction $U/W$', fontsize=13, labelpad=4)
put(983, 317, r'$\mathbf{f}$ Correlation length $\xi_{\mathrm{P}}(L\;=\;60)$')

cax = box(1089, 499, 1318, 516)
cb = fig.colorbar(ScalarMappable(Normalize(0, 15), xi_cmap), cax=cax, orientation='horizontal')
cb.set_ticks([0, 5, 10, 15])
cb.set_ticklabels(['0', '5', '10', '15'])
cax.xaxis.set_minor_locator(MultipleLocator(2.5))
cax.tick_params(axis='x', which='both', direction='in', top=True, bottom=True, labeltop=True, labelbottom=False,
                length=4, width=0.9, labelsize=13, pad=1)
cb.outline.set_linewidth(1.0)

fig.savefig('out.png', dpi=100)
